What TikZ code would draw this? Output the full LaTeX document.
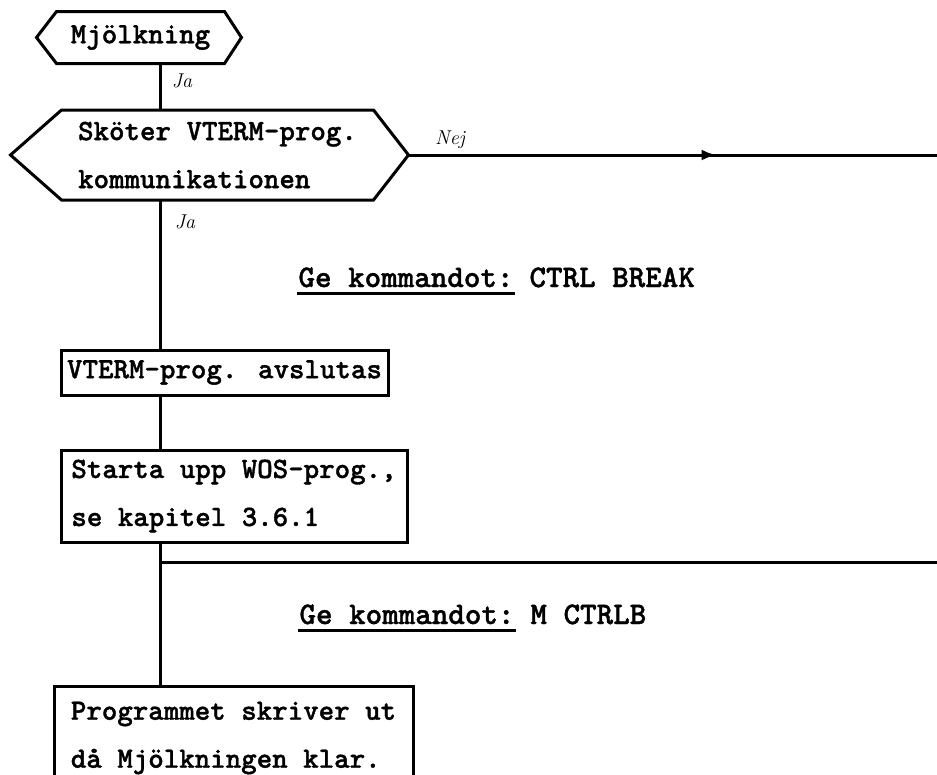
\documentclass[tikz,border=0pt]{standalone}
\usepackage{fontspec}
\newfontfamily\typefont{lmmonolt10-bold}[Extension=.otf, FakeBold=1.2]
\usetikzlibrary{arrows.meta,decorations.markings}

\begin{document}
\begin{tikzpicture}[x=1pt,y=-1pt,
  line width=3pt,
  every node/.style={inner sep=0pt},
  boxtext/.style={font=\typefont\fontsize{29.5}{48}\selectfont, align=left},
  stepbox/.style={boxtext, draw, line width=3pt},
  cmdtext/.style={font=\typefont\fontsize{31.5}{34}\selectfont, anchor=base west},
  hand/.style={font=\itshape\fontsize{20}{22}\selectfont},
  link/.style={line width=3pt},
  hexline/.style={line width=3pt, line join=miter},
  uline/.style={line width=3pt},
  flowmark/.style={link, postaction={decorate},
    decoration={markings, mark=at position 308pt with {\arrow{Latex[length=15pt,width=11pt]}}}}
]
\useasboundingbox (0,0) rectangle (937,774);

% reference points: the main vertical spine and the right margin
\coordinate (spine) at (160,0);
\coordinate (edge) at (937,0);

% start symbol
\node[boxtext, minimum width=165pt, minimum height=49pt] (mj) at (140.5,37.5) {Mjölkning};
\draw[hexline] (mj.north west) -- (mj.north east) -- ([xshift=17pt]mj.east)
  -- (mj.south east) -- (mj.south west) -- ([xshift=-20pt]mj.west) -- cycle;

% decision
\node[boxtext, minimum width=309pt, minimum height=87pt] (sk) at (217.5,155)
  {Sköter VTERM-prog.\\kommunikationen};
\draw[hexline] (sk.north west) -- (sk.north east) -- ([xshift=35pt]sk.east)
  -- (sk.south east) -- (sk.south west) -- ([xshift=-51pt]sk.west) -- cycle;
\coordinate (sktip) at ([xshift=35pt]sk.east);

% process boxes
\node[stepbox, minimum width=327pt, minimum height=45pt] (vt) at (224.5,372.5)
  {VTERM-prog. avslutas};
\node[stepbox, minimum width=346pt, minimum height=92pt] (st) at (234,496)
  {Starta upp WOS-prog.,\\se kapitel 3.6.1};
\begin{scope}
  \clip (0,0) rectangle (937,774);
  \node[stepbox, minimum width=359pt, minimum height=104pt] (pg) at (233.5,738)
    {Programmet skriver ut\\då Mjölkningen klar.};
\end{scope}

% connectors along the spine
\draw[link] (mj.south -| spine) -- (sk.north -| spine);
\draw[link] (sk.south -| spine) -- (vt.north -| spine);
\draw[link] (vt.south -| spine) -- (st.north -| spine);
\draw[link] (st.south -| spine) -- (pg.north -| spine);

% branches to the right
\draw[flowmark] (sktip) -- (sktip -| edge);
\coordinate (fork) at (160,562);
\draw[link] (fork) -- (fork -| edge);

% branch labels
\node[hand] (ja1) at (182,81) {Ja};
\node[hand] (ja2) at (185,222) {Ja};
\node[hand] (nej) at (450,140) {Nej};

% commands
\node[cmdtext] (g1) at (297,287) {Ge kommandot:};
\node[cmdtext] (g1b) at ([xshift=13pt]g1.base east) {CTRL BREAK};
\draw[uline] ([yshift=-6pt]g1.base west) -- ([yshift=-6pt]g1.base east);

\node[cmdtext] (g2) at (298,624) {Ge kommandot:};
\node[cmdtext] (g2b) at ([xshift=13pt]g2.base east) {M CTRLB};
\draw[uline] ([yshift=-6pt]g2.base west) -- ([yshift=-6pt]g2.base east);
\end{tikzpicture}
\end{document}
